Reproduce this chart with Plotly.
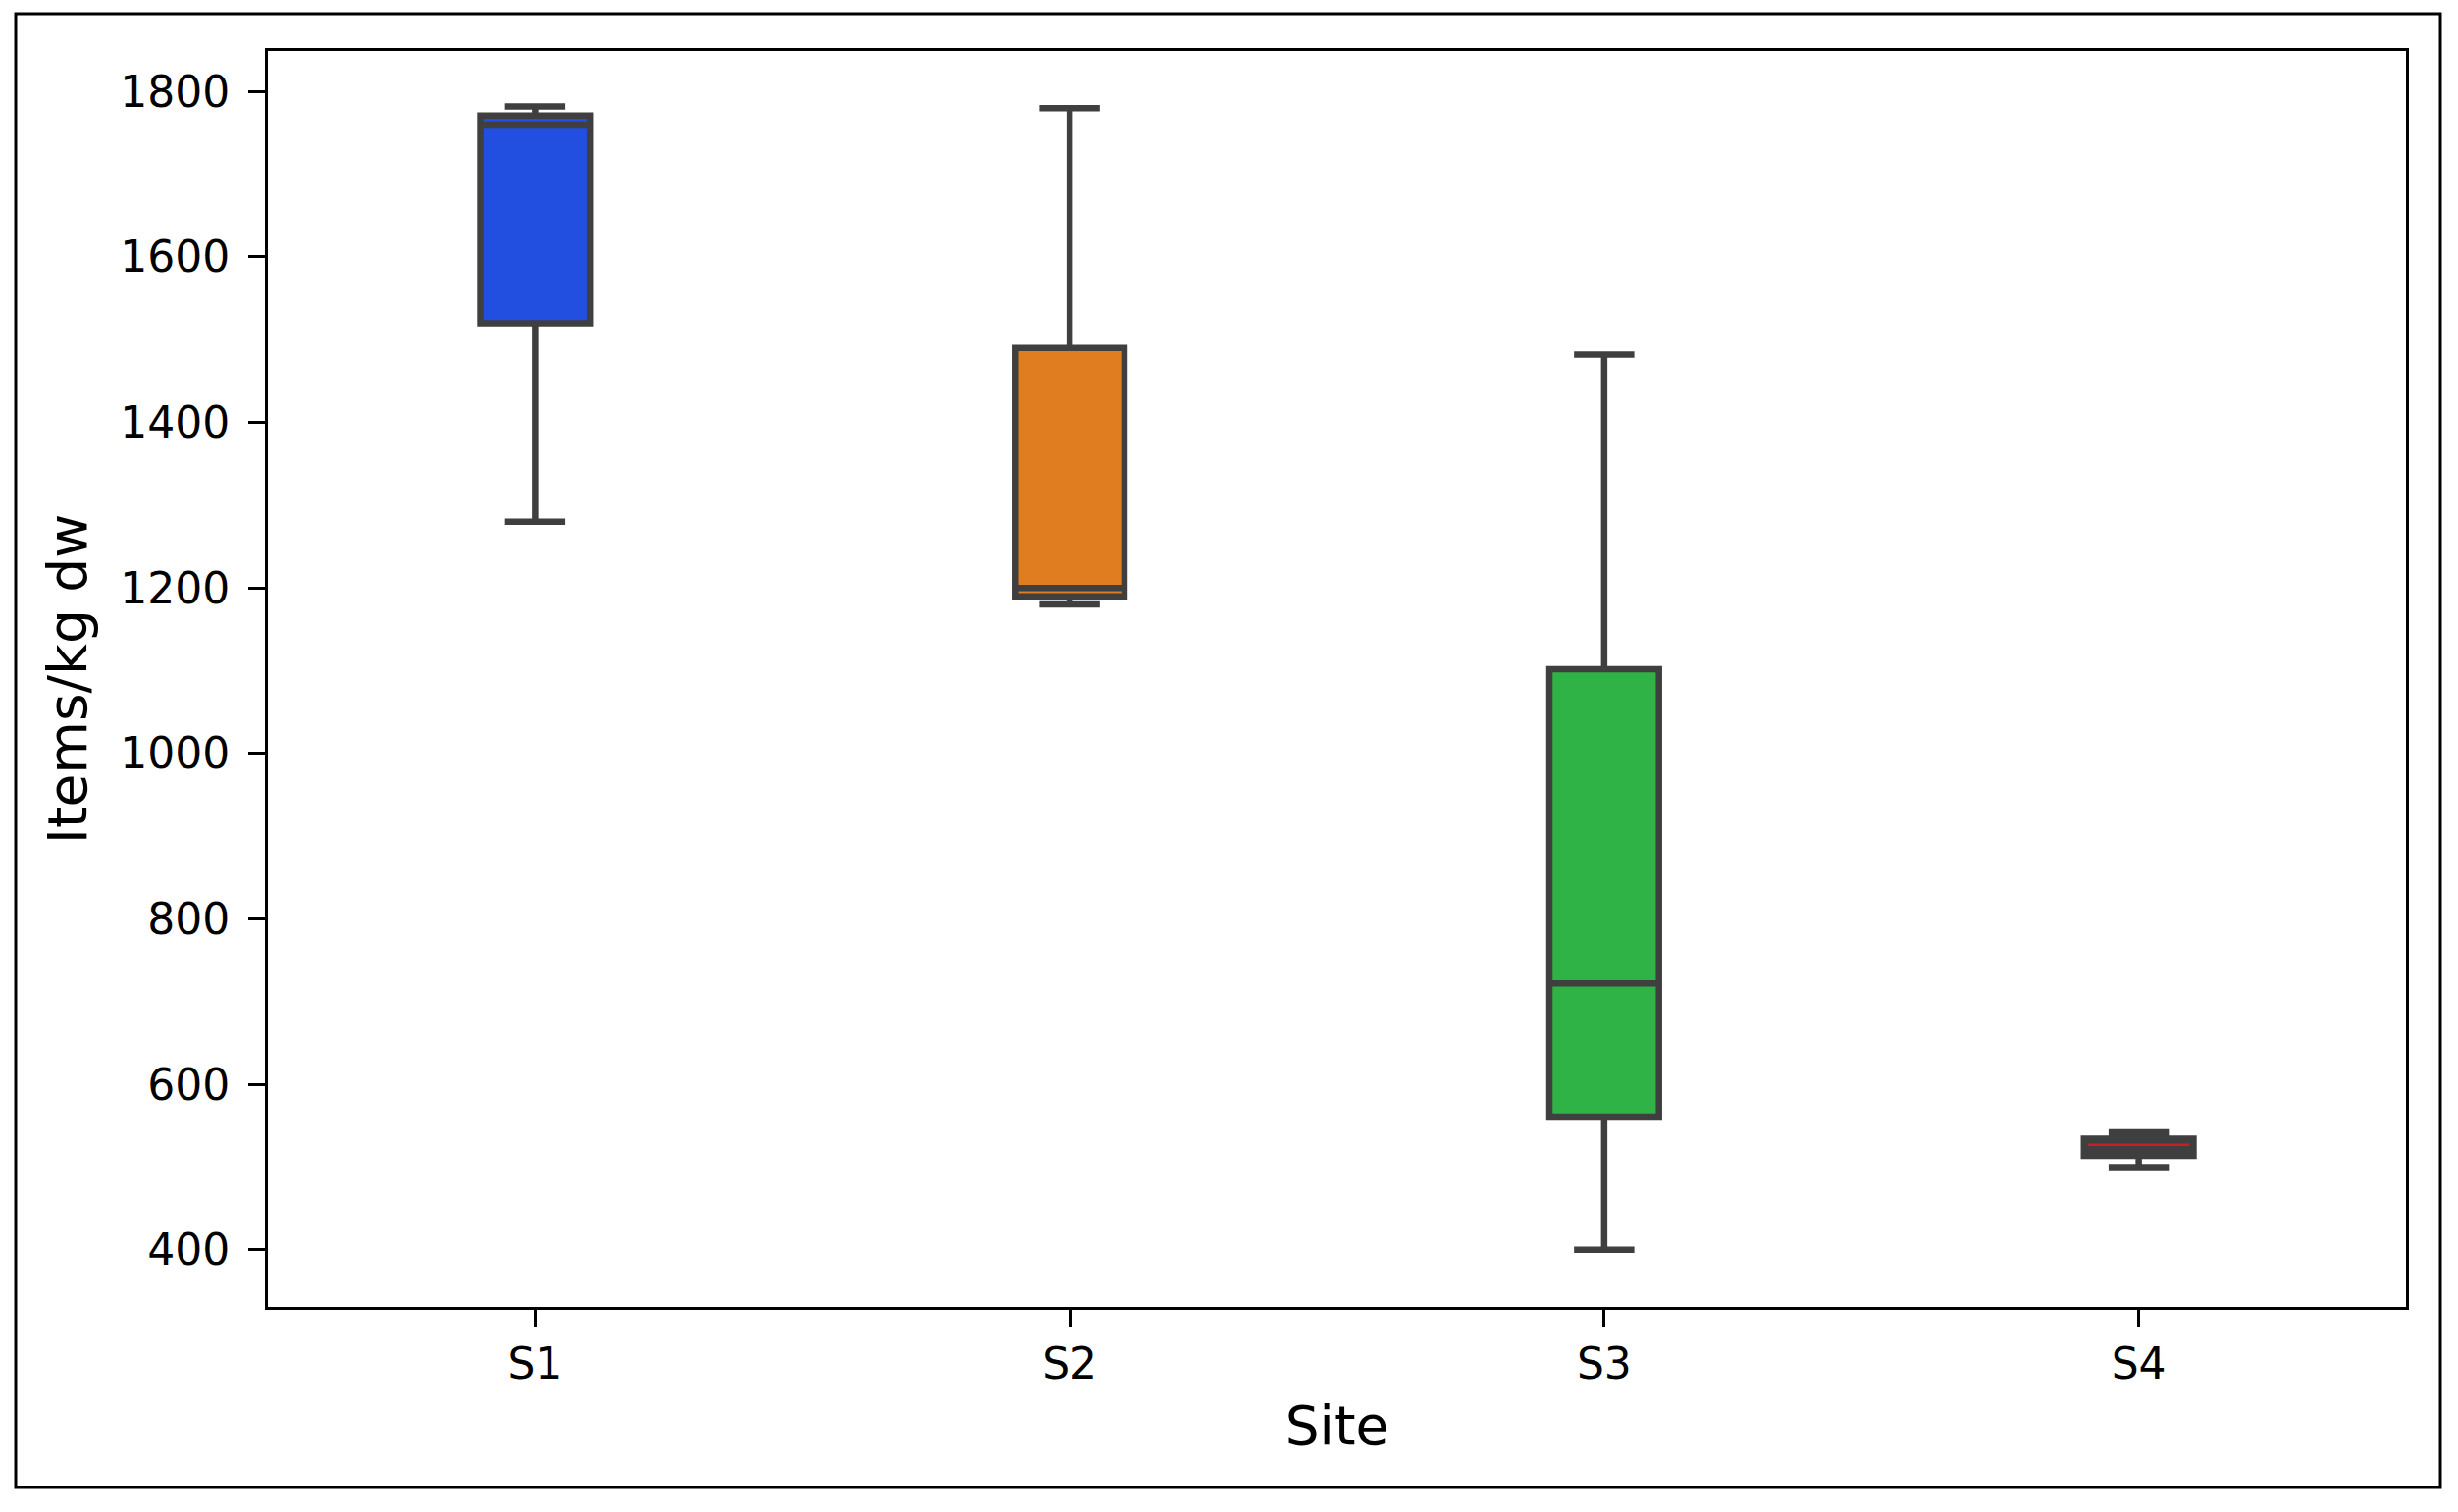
import numpy as np
import plotly.graph_objects as go

# ---- data ----
sites = ["S1", "S2", "S3", "S4"]
s1_values = [1280, 1760, 1782]
s2_values = [1180, 1200, 1780]
s3_values = [400, 722, 1482]
s4_values = [500, 527, 542]
fill_colors = ["#224fdf", "#df7d20", "#30b346", "#3f3f3f"]
y_ticks = [400, 600, 800, 1000, 1200, 1400, 1600, 1800]

OFF = 8  # default page body margin
W, H = 2505 - OFF, 1541 - OFF
L, R, T, B = 273 - OFF, 53, 52 - OFF, 209
LINE = "#3f3f3f"
FONT = "DejaVu Sans"

fig = go.Figure()
for site, vals, col in zip(sites, [s1_values, s2_values, s3_values, s4_values], fill_colors):
    fig.add_trace(go.Box(
        x=[site] * len(vals), y=vals, name=site,
        quartilemethod="inclusive", boxpoints=False,
        fillcolor=col, line=dict(color=LINE, width=6.5),
        width=0.205, whiskerwidth=0.55, showlegend=False,
    ))

# red median line of S4
m4 = float(np.median(s4_values))
fig.add_trace(go.Box(
    x=["S4"], q1=[m4], median=[m4], q3=[m4], lowerfence=[m4], upperfence=[m4],
    fillcolor="rgba(0,0,0,0)", line=dict(color="#cb1d25", width=2.7),
    width=0.19, whiskerwidth=0, showlegend=False,
))

pw = W - L - R
ph = H - T - B
def px_x(p):
    return (p - OFF - L) / pw
def px_y(p):
    return 1 - (p - OFF - T) / ph

fig.add_shape(type="rect", xref="paper", yref="paper",
              x0=px_x(16), x1=px_x(2487), y0=px_y(1516), y1=px_y(14),
              line=dict(color="black", width=3), fillcolor="rgba(0,0,0,0)", layer="below")

fig.update_layout(
    width=W, height=H,
    margin=dict(l=L, r=R, t=T, b=B, pad=0),
    paper_bgcolor="white", plot_bgcolor="white",
    font=dict(family=FONT, color="black", size=44),
    boxmode="overlay",
    xaxis=dict(
        type="category", categoryorder="array", categoryarray=sites,
        range=[-0.5, 3.5], showline=True, mirror=True, linecolor="black", linewidth=3,
        ticks="outside", ticklen=17, tickwidth=3, tickcolor="black",
        tickfont=dict(size=44, family=FONT), showgrid=False, zeroline=False,
        title=dict(text="Site", font=dict(size=55, family=FONT), standoff=20),
    ),
    yaxis=dict(
        range=[331, 1849], tickvals=y_ticks, ticktext=[str(v) for v in y_ticks],
        showline=True, mirror=True, linecolor="black", linewidth=3,
        ticks="outside", ticklen=17, tickwidth=3, tickcolor="black",
        ticklabelstandoff=10,
        tickfont=dict(size=44, family=FONT), showgrid=False, zeroline=False,
        title=dict(text="Items/kg dw", font=dict(size=55, family=FONT), standoff=16),
    ),
)

fig.write_html("out.html")
